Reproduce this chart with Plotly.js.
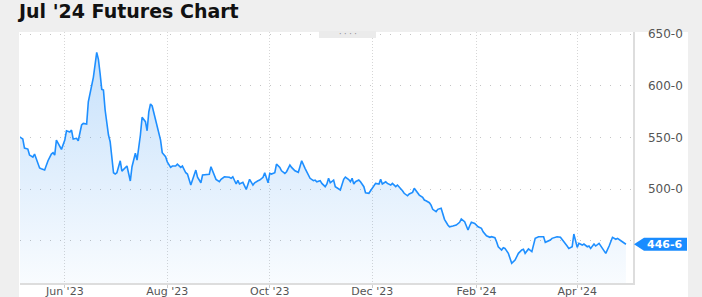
<!DOCTYPE html>
<html>
<head>
<meta charset="utf-8">
<script src="https://cdn.plot.ly/plotly-3.0.1.min.js"></script>
<style>
html,body{margin:0;padding:0;background:#efefef;}
#chart{width:702px;height:297px;}
</style>
</head>
<body>
<div id="chart"></div>
<script>
const chartTitle = "Jul '24 Futures Chart";

const dates = [
"2023-05-05","2023-05-07","2023-05-08","2023-05-10","2023-05-11","2023-05-13","2023-05-14","2023-05-15","2023-05-17","2023-05-18",
"2023-05-20","2023-05-22","2023-05-24","2023-05-25","2023-05-26","2023-05-27","2023-05-29","2023-05-30","2023-06-01","2023-06-02",
"2023-06-04","2023-06-05","2023-06-06","2023-06-08","2023-06-09","2023-06-11","2023-06-12","2023-06-14","2023-06-15","2023-06-17",
"2023-06-18","2023-06-20","2023-06-21","2023-06-22","2023-06-23","2023-06-24","2023-06-25","2023-06-27","2023-06-28","2023-06-30",
"2023-07-01","2023-07-02","2023-07-04","2023-07-05","2023-07-07","2023-07-08","2023-07-10","2023-07-11","2023-07-13","2023-07-14",
"2023-07-16","2023-07-17","2023-07-19","2023-07-20","2023-07-21","2023-07-22","2023-07-23","2023-07-25","2023-07-26","2023-07-28",
"2023-07-29","2023-07-31","2023-08-01","2023-08-03","2023-08-04","2023-08-06","2023-08-07","2023-08-09","2023-08-10","2023-08-12",
"2023-08-13","2023-08-15","2023-08-16","2023-08-17","2023-08-18","2023-08-19","2023-08-21","2023-08-22","2023-08-24","2023-08-26",
"2023-08-27","2023-08-29","2023-08-30","2023-09-01","2023-09-02","2023-09-04","2023-09-05","2023-09-07","2023-09-08","2023-09-09",
"2023-09-11","2023-09-12","2023-09-13","2023-09-15","2023-09-17","2023-09-18","2023-09-19","2023-09-21","2023-09-22","2023-09-24",
"2023-09-25","2023-09-27","2023-09-28","2023-09-30","2023-10-01","2023-10-02","2023-10-04","2023-10-05","2023-10-07","2023-10-08",
"2023-10-10","2023-10-11","2023-10-13","2023-10-14","2023-10-16","2023-10-18","2023-10-19","2023-10-20","2023-10-22","2023-10-24",
"2023-10-25","2023-10-27","2023-10-28","2023-10-29","2023-10-31","2023-11-01","2023-11-03","2023-11-04","2023-11-05","2023-11-06",
"2023-11-08","2023-11-09","2023-11-11","2023-11-12","2023-11-14","2023-11-15","2023-11-17","2023-11-18","2023-11-19","2023-11-20",
"2023-11-21","2023-11-23","2023-11-24","2023-11-26","2023-11-27","2023-11-29","2023-11-30","2023-12-02","2023-12-03","2023-12-05",
"2023-12-06","2023-12-07","2023-12-09","2023-12-10","2023-12-12","2023-12-13","2023-12-15","2023-12-16","2023-12-17","2023-12-19",
"2023-12-20","2023-12-22","2023-12-23","2023-12-25","2023-12-26","2023-12-28","2023-12-29","2023-12-31","2024-01-01","2024-01-02",
"2024-01-04","2024-01-05","2024-01-06","2024-01-08","2024-01-09","2024-01-11","2024-01-12","2024-01-13","2024-01-15","2024-01-16",
"2024-01-18","2024-01-20","2024-01-22","2024-01-23","2024-01-25","2024-01-26","2024-01-27","2024-01-28","2024-01-29","2024-01-31",
"2024-02-02","2024-02-04","2024-02-05","2024-02-07","2024-02-09","2024-02-10","2024-02-12","2024-02-13","2024-02-14","2024-02-16",
"2024-02-17","2024-02-18","2024-02-20","2024-02-21","2024-02-22","2024-02-24","2024-02-25","2024-02-26","2024-02-28","2024-02-29",
"2024-03-01","2024-03-02","2024-03-03","2024-03-05","2024-03-06","2024-03-07","2024-03-09","2024-03-10","2024-03-12","2024-03-13",
"2024-03-14","2024-03-16","2024-03-17","2024-03-19","2024-03-20","2024-03-22","2024-03-23","2024-03-25","2024-03-26","2024-03-27",
"2024-03-29","2024-03-30","2024-04-01","2024-04-02","2024-04-04","2024-04-05","2024-04-07","2024-04-08","2024-04-09","2024-04-11",
"2024-04-12","2024-04-14","2024-04-15","2024-04-17","2024-04-18","2024-04-20","2024-04-21","2024-04-22","2024-04-24","2024-04-25",
"2024-04-27","2024-04-28","2024-04-30"
];

const prices = [
550.6,548.4,539.7,538.7,532.9,531.0,533.9,530.0,520.4,519.7,
518.4,527.4,533.9,535.2,532.9,547.4,541.6,538.4,547.4,556.4,
555.2,557.1,548.4,549.1,546.8,562.0,563.6,562.9,584.5,602.3,
608.1,632.3,625.5,612.0,596.5,595.8,576.5,552.3,545.8,515.8,
514.5,515.8,527.4,517.4,521.0,522.3,507.8,521.6,534.6,528.1,
552.3,569.4,565.2,556.4,574.8,582.3,580.4,566.1,562.0,547.4,
535.2,531.3,526.4,521.0,522.3,522.3,524.2,521.0,522.3,515.8,
514.5,503.9,508.7,513.6,518.4,511.4,506.1,513.6,513.6,514.3,
521.6,513.6,509.4,507.1,509.4,511.9,511.9,511.4,510.4,511.9,
504.9,508.4,504.9,506.5,499.7,504.9,509.4,503.9,506.1,508.1,
508.7,511.4,515.8,506.1,515.2,514.5,515.8,524.2,521.0,517.7,
515.2,516.8,523.3,521.0,517.7,516.2,521.0,527.4,520.1,514.5,
510.4,508.1,508.7,507.1,508.1,505.5,502.3,504.9,510.4,506.1,
508.7,502.3,500.7,499.1,509.4,511.6,509.2,507.1,510.4,504.9,
507.1,508.7,507.1,502.3,496.4,495.9,498.4,503.9,505.5,504.9,
509.4,504.9,507.1,505.5,503.9,505.5,502.3,503.9,502.3,498.4,
495.9,493.5,495.2,496.8,500.7,496.8,494.2,492.0,489.4,488.7,
486.8,484.5,480.4,478.1,480.4,481.4,476.5,470.7,465.2,463.5,
464.2,465.2,467.8,471.0,468.4,464.5,460.4,464.5,467.8,466.8,
463.5,462.0,458.7,454.8,453.3,453.9,452.9,449.0,444.2,441.0,
443.2,442.6,437.8,433.0,428.1,431.3,434.5,437.8,441.0,441.7,
437.8,440.0,442.0,439.4,445.2,452.3,453.9,453.9,453.9,448.5,
449.0,450.7,452.3,453.3,453.9,453.3,451.4,447.8,444.9,442.6,
444.2,456.5,443.6,447.5,445.8,446.8,444.2,444.9,442.6,446.8,
444.9,447.5,444.9,441.0,437.8,444.9,450.0,453.3,451.4,452.3,
450.0,449.0,446.6
];

const xTickVals = ["2023-06-01","2023-08-01","2023-10-01","2023-12-01","2024-02-01","2024-04-01"];
const xTickText = ["Jun '23","Aug '23","Oct '23","Dec '23","Feb '24","Apr '24"];
const yTickVals = [450, 500, 550, 600, 650];

const fmt = v => v.toFixed(1).replace('.', '-');
const yTickText = yTickVals.map(v => v === 450 ? "" : fmt(v));
const lastVal = prices[prices.length - 1];

// plot area in pixels
const W = 702, H = 297, mL = 20, mR = 69, mT = 32, mB = 14;
const pw = W - mL - mR, ph = H - mT - mB;
const px = x => (x - mL) / pw;
const py = y => (H - mB - y) / ph;

const trace = {
  x: dates, y: prices, type: 'scatter', mode: 'lines',
  line: {color: '#1e8fff', width: 1.6},
  fill: 'tozeroy',
  fillgradient: {
    type: 'vertical', start: 409, stop: 640,
    colorscale: [[0, 'rgba(40,140,240,0.03)'], [1, 'rgba(40,140,240,0.27)']]
  },
  hoverinfo: 'skip', showlegend: false
};

const layout = {
  width: W, height: H,
  margin: {l: mL, r: mR, t: mT, b: mB, pad: 0},
  paper_bgcolor: '#efefef',
  plot_bgcolor: '#ffffff',
  font: {family: 'DejaVu Sans, Verdana, sans-serif', size: 12, color: '#555'},
  title: {
    text: '<b>' + chartTitle + '</b>',
    font: {family: 'DejaVu Sans, sans-serif', size: 19, color: '#111'},
    x: 19 / W, xanchor: 'left', xref: 'container',
    y: 1 - 11 / H, yanchor: 'middle', yref: 'container'
  },
  xaxis: {
    type: 'date',
    range: ['2023-05-05 08:00', '2024-05-04 05:00'],
    tickmode: 'array', tickvals: xTickVals, ticktext: xTickText,
    ticks: 'outside', ticklen: 3, tickcolor: '#cccccc', tickwidth: 1,
    ticklabelstandoff: -6,
    tickfont: {family: 'DejaVu Sans, sans-serif', size: 11, color: '#555'},
    showgrid: true, gridcolor: '#d6d6d6', griddash: '1px,2px', gridwidth: 1,
    showline: true, linecolor: '#dddddd', linewidth: 1.5,
    zeroline: false, automargin: false, fixedrange: true
  },
  yaxis: {
    side: 'right',
    range: [409.1, 652.0],
    tickmode: 'array', tickvals: yTickVals, ticktext: yTickText,
    ticks: '', ticklabelstandoff: 11,
    tickfont: {family: 'DejaVu Sans, sans-serif', size: 12, color: '#555'},
    showgrid: true, gridcolor: '#c4c4c4', griddash: '1px,9px', gridwidth: 1,
    showline: true, linecolor: '#dddddd', linewidth: 1.5,
    zeroline: false, automargin: false, fixedrange: true
  },
  shapes: [
    // white panel behind the chart
    {type: 'rect', xref: 'paper', yref: 'paper', layer: 'below',
     x0: px(19), x1: px(688), y0: py(297), y1: py(32),
     fillcolor: '#ffffff', line: {width: 0}},
    // small tab at top centre
    {type: 'rect', xref: 'paper', yref: 'paper', layer: 'above',
     x0: px(319), x1: px(376), y0: py(38), y1: py(31),
     fillcolor: '#ebebeb', line: {width: 0}},
    // last price marker
    {type: 'path', xref: 'paper', yref: 'y', layer: 'above',
     xsizemode: 'pixel', ysizemode: 'pixel', xanchor: 1, yanchor: lastVal,
     path: 'M1,0 L11,6.5 L54,6.5 L54,-6.5 L11,-6.5 Z',
     fillcolor: '#1a8cff', line: {width: 0}}
  ],
  annotations: [
    {xref: 'paper', yref: 'y', x: 1, y: lastVal, xanchor: 'center', xshift: 32,
     text: '<b>' + fmt(lastVal) + '</b>', showarrow: false,
     font: {family: 'DejaVu Sans, sans-serif', size: 11, color: '#ffffff'}},
    {xref: 'paper', yref: 'paper', x: px(348), y: py(34.5), xanchor: 'center', yanchor: 'middle',
     text: '· · · ·', showarrow: false,
     font: {family: 'DejaVu Sans, sans-serif', size: 8, color: '#888'}}
  ]
};

Plotly.newPlot('chart', [trace], layout, {displayModeBar: false, staticPlot: true});
</script>
</body>
</html>
